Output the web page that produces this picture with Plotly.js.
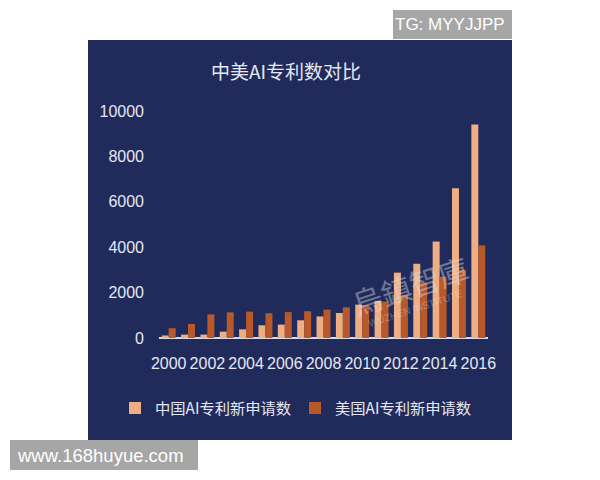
<!DOCTYPE html>
<html>
<head>
<meta charset="utf-8">
<script src="https://cdn.plot.ly/plotly-3.0.1.min.js"></script>
<style>html,body{margin:0;padding:0;background:#fff;}#chart{width:600px;height:480px;}</style>
</head>
<body>
<div id="chart"></div>
<script>
const years = [2000,2001,2002,2003,2004,2005,2006,2007,2008,2009,2010,2011,2012,2013,2014,2015,2016];
const chinaPatents = [110,150,150,280,380,560,590,780,950,1100,1470,1630,2880,3270,4250,6600,9400];
const usPatents = [430,620,1040,1130,1160,1090,1140,1180,1250,1350,1450,1600,1900,2450,2700,3000,4080];
const tickYears = [2000,2002,2004,2006,2008,2010,2012,2014,2016];
const yTicks = [0,2000,4000,6000,8000,10000];
const seriesNames = ['中国AI专利新申请数','美国AI专利新申请数'];
const titleText = '中美AI专利数对比';

const W = 600, H = 480;
const mL = 159, mR = 112, mT = 111, mB = 142;
const pw = W - mL - mR, ph = H - mT - mB;
const fx = px => (px - mL) / pw;
const fy = py => (H - mB - py) / ph;

const fontCJK = '"Noto Sans CJK SC", "Liberation Sans", sans-serif';
const fontNum = '"Liberation Sans", Arial, sans-serif';
const txt = '#e4e8f2';

const traces = [
  {type:'bar', x: years, y: chinaPatents, name: seriesNames[0],
   marker:{color:'#efae82', line:{width:0}}},
  {type:'bar', x: years, y: usPatents, name: seriesNames[1],
   marker:{color:'#b9592a', line:{width:0}}}
];

const layout = {
  width: W, height: H,
  margin: {l: mL, r: mR, t: mT, b: mB, pad: 0},
  paper_bgcolor: '#ffffff',
  plot_bgcolor: 'rgba(0,0,0,0)',
  barmode: 'group', bargap: 0.28, bargroupgap: 0,
  font: {family: fontCJK, color: txt, size: 15},
  title: {text: titleText, font: {family: fontCJK, size: 19, color: txt},
          xref: 'container', yref: 'container', x: 286/W, xanchor: 'center',
          y: 1 - 72/H, yanchor: 'middle'},
  xaxis: {type: 'linear', range: [1999.5, 2016.5], tickmode: 'array', tickvals: tickYears,
          ticktext: tickYears.map(String), showgrid: false, zeroline: false,
          showline: false, ticks: '', ticklabelstandoff: 14,
          tickfont: {family: fontNum, size: 16, color: txt}, fixedrange: true},
  yaxis: {range: [0, 10000], tickmode: 'array', tickvals: yTicks, ticktext: yTicks.map(String),
          showgrid: false, zeroline: true, zerolinecolor: '#d6d9e6', zerolinewidth: 2,
          showline: false, ticks: '', ticklabelstandoff: 14,
          tickfont: {family: fontNum, size: 16, color: txt}, fixedrange: true},
  showlegend: true,
  legend: {orientation: 'h', x: fx(115), xanchor: 'left', y: fy(408), yanchor: 'middle',
           font: {family: fontCJK, size: 15.3, color: txt}, bgcolor: 'rgba(0,0,0,0)',
           itemclick: false, traceorder: 'normal', entrywidth: 135},
  shapes: [
    {type: 'rect', xref: 'paper', yref: 'paper', x0: fx(88), x1: fx(512), y0: fy(440), y1: fy(40),
     fillcolor: '#212b5b', line: {width: 0}, layer: 'below'},
    {type: 'rect', xref: 'paper', yref: 'paper', x0: fx(393), x1: fx(512), y0: fy(39), y1: fy(10),
     fillcolor: '#a6a6a6', line: {width: 0}, layer: 'above'},
    {type: 'rect', xref: 'paper', yref: 'paper', x0: fx(10), x1: fx(198), y0: fy(470), y1: fy(440),
     fillcolor: '#a6a6a6', line: {width: 0}, layer: 'above'}
  ],
  annotations: [
    {xref: 'paper', yref: 'paper', x: fx(450), y: fy(25), text: 'TG: MYYJJPP', showarrow: false,
     font: {family: fontNum, size: 17, color: '#ffffff'},
     xanchor: 'center', yanchor: 'middle'},
    {xref: 'paper', yref: 'paper', x: fx(100), y: fy(455), text: 'www.168huyue.com', showarrow: false,
     font: {family: fontNum, size: 18.5, color: '#ffffff'},
     xanchor: 'center', yanchor: 'middle'},
    {xref: 'paper', yref: 'paper', x: fx(410), y: fy(285), text: '烏鎮智庫', showarrow: false,
     textangle: -18, opacity: 0.4,
     font: {family: '"Noto Sans CJK TC", sans-serif', size: 30, color: '#e0e4f0'},
     xanchor: 'center', yanchor: 'middle'},
    {xref: 'paper', yref: 'paper', x: fx(415), y: fy(308), text: 'WUZHEN INSTITUTE', showarrow: false,
     textangle: -18, opacity: 0.3,
     font: {family: fontNum, size: 10, color: '#e0e4f0'},
     xanchor: 'center', yanchor: 'middle'}
  ]
};

Plotly.newPlot('chart', traces, layout, {displayModeBar: false, staticPlot: true});
</script>
</body>
</html>
